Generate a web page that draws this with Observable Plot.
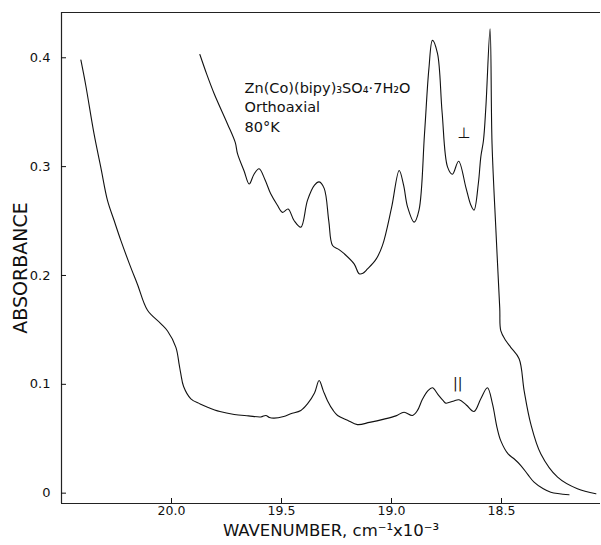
<!DOCTYPE html>
<html>
<head>
<meta charset="utf-8">
<script src="https://cdn.jsdelivr.net/npm/d3@7"></script>
<script src="https://cdn.jsdelivr.net/npm/@observablehq/plot@0.6"></script>
<style>
  body { margin: 0; background: #fff; }
  #chart svg { display: block; }
</style>
</head>
<body>
<div id="chart"></div>
<script>
// Parallel-polarised spectrum (lower curve, "||")
const parWn = [20.412, 20.39, 20.352, 20.32, 20.291, 20.26, 20.23, 20.19, 20.155, 20.109, 20.05, 20.018, 19.98, 19.965, 19.958, 19.945, 19.912, 19.87, 19.836, 19.78, 19.715, 19.65, 19.594, 19.571, 19.555, 19.534, 19.49, 19.458, 19.412, 19.382, 19.35, 19.329, 19.31, 19.291, 19.265, 19.245, 19.2, 19.155, 19.1, 19.034, 18.98, 18.943, 18.905, 18.882, 18.86, 18.835, 18.814, 18.79, 18.765, 18.753, 18.72, 18.693, 18.66, 18.625, 18.594, 18.564, 18.541, 18.52, 18.503, 18.47, 18.443, 18.412, 18.38, 18.352, 18.31, 18.276, 18.193];
const parAbs = [0.398, 0.375, 0.330, 0.298, 0.269, 0.250, 0.232, 0.210, 0.192, 0.168, 0.156, 0.149, 0.134, 0.118, 0.110, 0.098, 0.0867, 0.082, 0.079, 0.075, 0.0723, 0.071, 0.070, 0.0714, 0.0695, 0.0689, 0.0705, 0.073, 0.076, 0.082, 0.092, 0.1035, 0.094, 0.085, 0.076, 0.0714, 0.067, 0.063, 0.065, 0.068, 0.071, 0.0744, 0.0714, 0.076, 0.086, 0.094, 0.0968, 0.091, 0.085, 0.0827, 0.0845, 0.0858, 0.081, 0.075, 0.0867, 0.0968, 0.082, 0.060, 0.048, 0.036, 0.0316, 0.0254, 0.017, 0.0101, 0.004, 0.0009, -0.0015];

// Perpendicular-polarised spectrum (upper curve, "⊥")
const perpWn = [19.871, 19.84, 19.806, 19.745, 19.71, 19.7, 19.67, 19.647, 19.625, 19.602, 19.575, 19.549, 19.52, 19.495, 19.47, 19.443, 19.412, 19.382, 19.35, 19.329, 19.306, 19.285, 19.268, 19.24, 19.215, 19.17, 19.147, 19.13, 19.109, 19.07, 19.041, 19.0, 18.965, 18.945, 18.927, 18.897, 18.875, 18.85, 18.83, 18.814, 18.791, 18.77, 18.745, 18.723, 18.695, 18.662, 18.64, 18.625, 18.605, 18.594, 18.582, 18.571, 18.552, 18.543, 18.525, 18.508, 18.503, 18.48, 18.458, 18.42, 18.397, 18.367, 18.321, 18.245, 18.155, 18.071];
const perpAbs = [0.403, 0.385, 0.367, 0.339, 0.322, 0.312, 0.296, 0.284, 0.293, 0.298, 0.288, 0.275, 0.265, 0.258, 0.261, 0.2505, 0.2444, 0.269, 0.283, 0.286, 0.280, 0.250, 0.2276, 0.224, 0.220, 0.2107, 0.2016, 0.202, 0.206, 0.215, 0.2276, 0.262, 0.2965, 0.283, 0.263, 0.249, 0.260, 0.330, 0.390, 0.416, 0.404, 0.350, 0.2995, 0.293, 0.305, 0.281, 0.265, 0.260, 0.285, 0.309, 0.324, 0.355, 0.4266, 0.321, 0.240, 0.170, 0.149, 0.140, 0.134, 0.1235, 0.094, 0.0637, 0.036, 0.0147, 0.004, -0.0006];

const xTicks = [20.0, 19.5, 19.0, 18.5];
const xTickLabels = ["20.0", "19.5", "19.0", "18.5"];
const yTicks = [0, 0.1, 0.2, 0.3, 0.4];
const yTickLabels = ["0", "0.1", "0.2", "0.3", "0.4"];
const xDomain = [20.5, 18.05];
const yDomain = [-0.0095, 0.4416];

const titleLines = ["Zn(Co)(bipy)₃SO₄·7H₂O", "Orthoaxial", "80°K"];
const xLabel = "WAVENUMBER, cm⁻¹x10⁻³";
const yLabel = "ABSORBANCE";

const par = parWn.map((x, i) => ({x, y: parAbs[i]}));
const perp = perpWn.map((x, i) => ({x, y: perpAbs[i]}));

const font = "DejaVu Sans";

const chart = Plot.plot({
  width: 601,
  height: 545,
  marginLeft: 61,
  marginRight: 1,
  marginTop: 12,
  marginBottom: 42,
  style: {fontFamily: font, fontSize: "13px", color: "#111", background: "#fff"},
  x: {domain: xDomain},
  y: {domain: yDomain},
  marks: [
    Plot.ruleY([yDomain[1]], {stroke: "#222", strokeWidth: 1.2}),
    Plot.ruleY([yDomain[0]], {stroke: "#222", strokeWidth: 1.2}),
    Plot.ruleX([xDomain[0]], {stroke: "#222", strokeWidth: 1.2}),
    Plot.axisX(xTicks, {tickSize: -5, tickPadding: 8, tickFormat: d => xTickLabels[xTicks.indexOf(d)], label: null, fontSize: 12.5}),
    Plot.axisY(yTicks, {tickSize: -5, tickPadding: 16, tickFormat: d => yTickLabels[yTicks.indexOf(d)], label: null, fontSize: 13}),
    Plot.line(par, {x: "x", y: "y", curve: "catmull-rom", stroke: "#111", strokeWidth: 1.1}),
    Plot.line(perp, {x: "x", y: "y", curve: "catmull-rom", stroke: "#111", strokeWidth: 1.1}),
    Plot.text(titleLines, {x: 19.668, y: [0.372, 0.354, 0.336], text: d => d, textAnchor: "start", fontSize: 14.5, fill: "#111"}),
    Plot.text(["⊥"], {x: 18.671, y: 0.331, text: d => d, fontSize: 15, fill: "#111"}),
    Plot.text(["||"], {x: 18.699, y: 0.1008, text: d => d, fontSize: 14, fill: "#111"}),
    Plot.text([xLabel], {frameAnchor: "bottom", lineAnchor: "middle", text: d => d, dy: 27, fontSize: 16.5, fill: "#111"}),
    Plot.text([yLabel], {frameAnchor: "left", textAnchor: "middle", lineAnchor: "middle", text: d => d, dx: -41, dy: 10, rotate: -90, fontSize: 19, fill: "#111"})
  ]
});

document.getElementById("chart").appendChild(chart);
</script>
</body>
</html>
